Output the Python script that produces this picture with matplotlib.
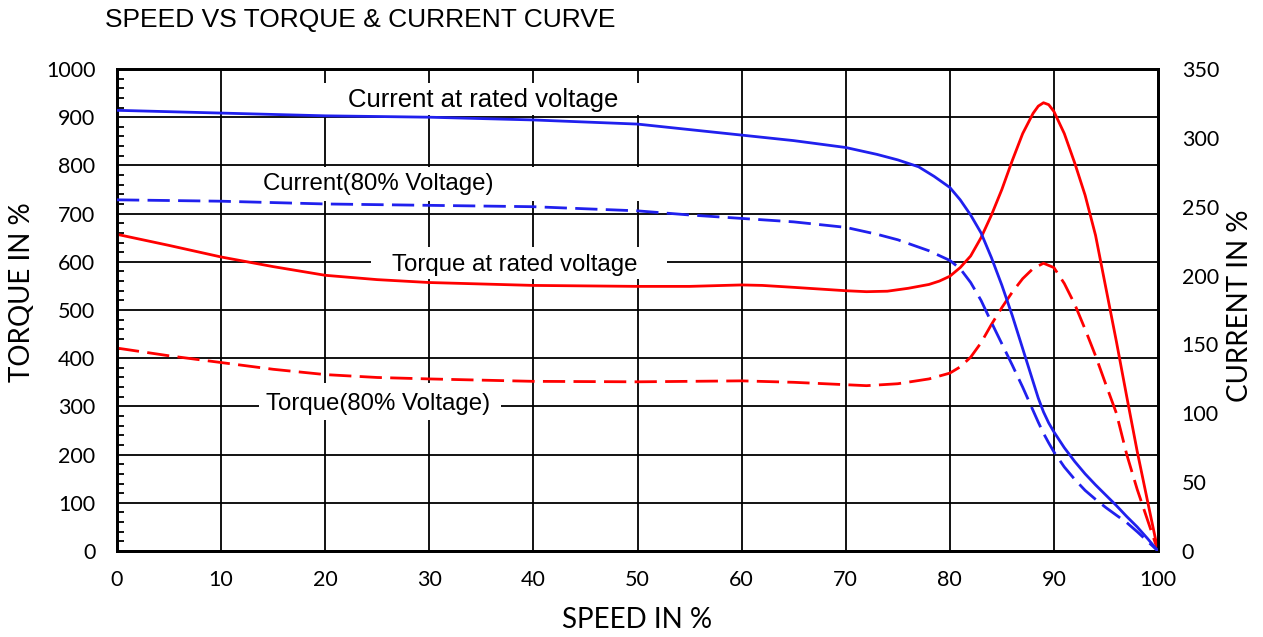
import matplotlib
matplotlib.use("Agg")
import matplotlib.pyplot as plt
from matplotlib.patches import Rectangle
from matplotlib.ticker import MultipleLocator

# ---------------- data ----------------
# Current at rated voltage (right axis, %)
speed_cur_rated = [0, 10, 20, 30, 40, 50, 55, 60, 65, 70, 73, 75, 77, 78.5, 80, 81, 82, 83, 84,
                   85, 86, 87, 88, 88.5, 89, 89.5, 90, 91, 92, 93, 94, 95, 96, 97, 98, 99, 100]
cur_rated = [320, 318, 316, 315, 313, 310, 306, 302, 298, 293, 288, 284, 279, 272, 264, 255, 244, 231, 213,
             193, 171, 147, 123, 111, 101, 93, 86.5, 75, 65, 56, 48, 40.5, 33, 25, 17.5, 9, 0]

# Current at 80% voltage (right axis, %)
speed_cur_80 = [0, 10, 20, 30, 40, 50, 55, 60, 65, 70, 73, 75, 78, 80, 81, 82, 83, 84, 85, 86, 87,
                88, 88.5, 89, 89.5, 90, 91, 92, 93, 94, 95, 96, 97, 98, 99, 100]
cur_80 = [255, 254, 252, 251, 250, 247, 244, 241.5, 239, 235, 230, 226, 218, 211, 205, 195, 182, 166, 150.5,
          135, 119, 102, 93.5, 85.5, 78.5, 72, 61, 52, 44, 37.5, 31.5, 26, 20.6, 14, 7, 0]

# Torque at rated voltage (left axis, %)
speed_tq_rated = [0, 5, 10, 15, 20, 25, 30, 40, 50, 55, 60, 62, 65, 70, 72, 74, 76, 78, 79, 80, 81, 82, 83,
                  84, 85, 86, 87, 88, 88.5, 89, 89.5, 90, 91, 92, 93, 94, 95, 96, 97, 98, 99, 100]
tq_rated = [657, 634, 610, 590, 572, 563, 557, 551, 549, 549, 552, 551, 547, 540, 538, 539, 545, 553, 560, 570,
            588, 612, 650, 697, 750, 810, 866, 908, 923, 930, 926, 912, 866, 805, 738, 655, 545, 435, 320, 207,
            103, 0]

# Torque at 80% voltage (left axis, %)
speed_tq_80 = [0, 5, 10, 15, 20, 25, 30, 40, 50, 60, 65, 70, 72, 75, 78, 80, 81, 82, 83, 84, 85, 86, 87,
               88, 89, 90, 91, 92, 93, 94, 95, 96, 97, 98, 99, 100]
tq_80 = [421, 405, 391, 377, 366, 360, 357, 352, 351, 353, 350, 345, 343, 347, 357, 369, 382, 402, 432, 470,
         505, 537, 565, 586, 597, 588, 555, 512, 460, 405, 345, 286, 200, 128, 64, 0]

x_ticks = list(range(0, 101, 10))
torque_ticks = list(range(0, 1001, 100))
current_ticks = list(range(0, 351, 50))

title = "SPEED VS TORQUE & CURRENT CURVE"
xlabel = "SPEED IN %"
ylabel_left = "TORQUE IN %"
ylabel_right = "CURRENT IN %"

# ---------------- figure ----------------
W, H = 1263, 637
fig = plt.figure(figsize=(W / 100, H / 100), dpi=100)
ax = fig.add_axes([117 / W, 1 - 551 / H, (1158 - 117) / W, (551 - 69) / H])
ax2 = ax.twinx()

tick_font = "Lato"
ann_font = "Liberation Sans"

ax.set_xlim(0, 100)
ax.set_ylim(0, 1000)
ax2.set_ylim(0, 350)
ax.set_xticks(x_ticks)
ax.set_yticks(torque_ticks)
ax2.set_yticks(current_ticks)
ax.yaxis.set_minor_locator(MultipleLocator(20))

ax.set_axisbelow(True)
ax.grid(True, which="major", color="black", linewidth=1.3)

for a in (ax, ax2):
    for s in a.spines.values():
        s.set_linewidth(2.0)
        s.set_color("black")

tsize = 15.5
ax.tick_params(axis="x", which="major", length=0, pad=14, labelsize=tsize)
ax.tick_params(axis="y", which="major", length=0, pad=15.5, labelsize=tsize)
ax.tick_params(axis="y", which="minor", direction="in", length=5, width=1.3, color="black")
ax2.tick_params(axis="y", which="major", length=0, pad=17, labelsize=tsize)
for lab in ax.get_xticklabels() + ax.get_yticklabels() + ax2.get_yticklabels():
    lab.set_fontfamily(tick_font)

# label background boxes (cover grid lines like the original text boxes)
boxes = [
    (12, 905, 44, 66),     # Current at rated voltage
    (10.5, 727, 40, 70),   # Current(80% Voltage)
    (24.4, 565, 28.4, 65), # Torque at rated voltage
    (13.6, 272, 23.3, 77), # Torque(80% Voltage)
]
for (bx, by, bw, bh) in boxes:
    ax.add_patch(Rectangle((bx, by), bw, bh, facecolor="white", edgecolor="none", zorder=1.5))

lw = 2.0
dash = (0, (8, 3))
ax.plot(speed_tq_rated, tq_rated, color="#ff0000", linewidth=lw, zorder=3, solid_joinstyle="round")
ax.plot(speed_tq_80, tq_80, color="#ff0000", linewidth=lw, linestyle=dash, zorder=3)
ax2.plot(speed_cur_rated, cur_rated, color="#2020ee", linewidth=lw, zorder=3, solid_joinstyle="round")
ax2.plot(speed_cur_80, cur_80, color="#2020ee", linewidth=lw, linestyle=dash, zorder=3)

ax.text(35.2, 936, "Current at rated voltage", fontsize=18.5, family=ann_font, ha="center", va="center", zorder=4)
ax.text(25.1, 761, "Current(80% Voltage)", fontsize=17.3, family=ann_font, ha="center", va="center", zorder=4)
ax.text(38.2, 593, "Torque at rated voltage", fontsize=17.3, family=ann_font, ha="center", va="center", zorder=4)
ax.text(25.1, 305, "Torque(80% Voltage)", fontsize=17.3, family=ann_font, ha="center", va="center", zorder=4)

fig.text(105 / W, 1 - 20 / H, title, fontsize=19, family=ann_font, ha="left", va="center")
fig.text(637 / W, 1 - 620 / H, xlabel, fontsize=20, family=tick_font, ha="center", va="center")
fig.text(22 / W, 1 - 292 / H, ylabel_left, fontsize=20, family=tick_font, ha="center", va="center", rotation=90)
fig.text(1240 / W, 1 - 306 / H, ylabel_right, fontsize=20, family=tick_font, ha="center", va="center", rotation=90)

fig.savefig("out.png", dpi=100)
